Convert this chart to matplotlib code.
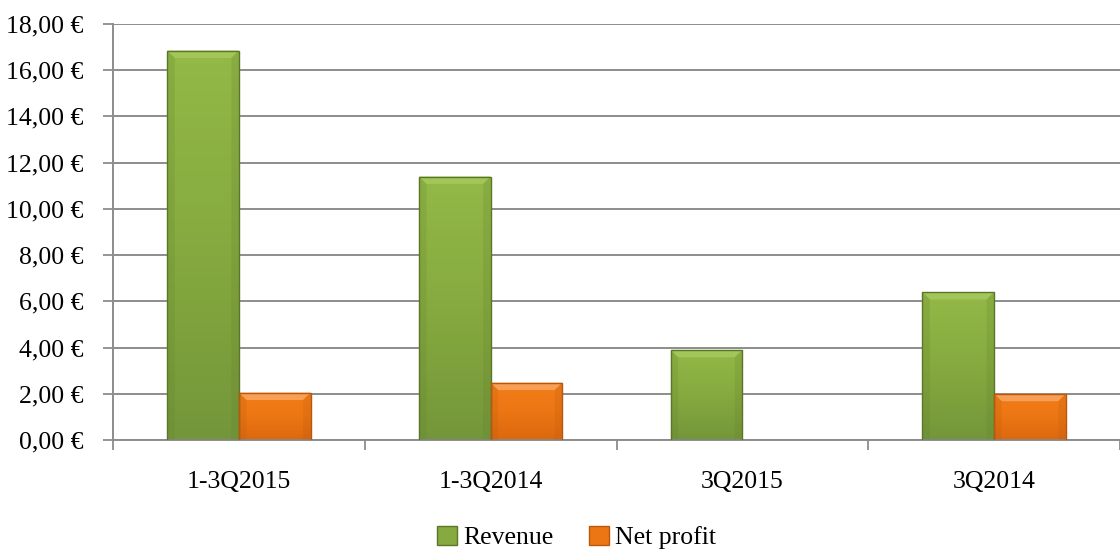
import matplotlib
matplotlib.use("Agg")
import matplotlib.pyplot as plt
import numpy as np
from matplotlib.patches import Patch, Polygon
from matplotlib.colors import LinearSegmentedColormap

categories = ["1-3Q2015", "1-3Q2014", "3Q2015", "3Q2014"]
revenue = [16.85, 11.4, 3.9, 6.4]
net_profit = [2.05, 2.48, 0.0, 2.0]
y_ticks = [0, 2, 4, 6, 8, 10, 12, 14, 16, 18]

plt.rcParams['font.family'] = ['Liberation Serif', 'DejaVu Serif']

fig = plt.figure(figsize=(11.2, 5.53), dpi=100)
ax = fig.add_axes([113 / 1120, 113 / 553, 1 - 113 / 1120, (440 - 24) / 553])

x = np.arange(len(categories))
w = 0.285

green_cmap = LinearSegmentedColormap.from_list("g", ["#74963a", "#86aa3f", "#93b947"])
orange_cmap = LinearSegmentedColormap.from_list("o", ["#dc680f", "#ec7613", "#f27e18"])

bars_r = ax.bar(x - w / 2, revenue, w, facecolor="none", edgecolor="#5b7629", lw=1.0, zorder=3)
bars_p = ax.bar(x + w / 2, net_profit, w, facecolor="none", edgecolor="#b8580c", lw=1.0, zorder=3)

grad = np.linspace(0, 1, 256).reshape(-1, 1)
bev_y = 0.32
bev_x = 0.03


def shade(bars, cmap, light, dark):
    for b in bars:
        bx, by = b.get_x(), b.get_y()
        bw, bh = b.get_width(), b.get_height()
        if bh <= 0:
            b.set_visible(False)
            continue
        im = ax.imshow(grad, cmap=cmap, origin="lower", aspect="auto",
                       extent=[bx, bx + bw, by, by + bh], zorder=2)
        im.set_clip_path(b)
        d = min(bev_y, bh / 2)
        top = Polygon([[bx, by + bh], [bx + bw, by + bh],
                       [bx + bw - bev_x, by + bh - d], [bx + bev_x, by + bh - d]],
                      closed=True, facecolor=light, edgecolor="none", zorder=2.5)
        ax.add_patch(top)
        for side in (bx, bx + bw):
            sx = bx + bev_x if side == bx else bx + bw - bev_x
            sp = Polygon([[side, by + bh], [sx, by + bh - d], [sx, by], [side, by]],
                         closed=True, facecolor=dark, edgecolor="none", alpha=0.2, zorder=2.5)
            ax.add_patch(sp)


shade(bars_r, green_cmap, "#a3c65a", "#5f7d2b")
shade(bars_p, orange_cmap, "#f69f55", "#b8580c")

ax.set_xlim(-0.5, 3.46)
ax.set_ylim(0, 18)

ax.set_yticks(y_ticks)
ax.set_yticklabels([f"{v:.2f}".replace(".", ",") + " €" for v in y_ticks])
ax.yaxis.grid(True, color="#8c8c8c", lw=1.4, zorder=1)
ax.set_axisbelow(True)

ax.set_xticks(np.arange(len(categories) + 1) - 0.5)
ax.set_xticklabels([])
ax.set_xticks(x, minor=True)
ax.set_xticklabels(categories, minor=True)
ax.tick_params(axis="x", which="minor", length=0, pad=22, labelsize=18.5)
ax.tick_params(axis="x", which="major", length=7, width=1.3, color="#8c8c8c")
ax.tick_params(axis="y", length=7, width=1.3, color="#8c8c8c", pad=14, labelsize=18.5)

for s in ("top", "right"):
    ax.spines[s].set_visible(False)
for s in ("left", "bottom"):
    ax.spines[s].set_color("#8c8c8c")
    ax.spines[s].set_linewidth(1.4)

handles = [Patch(facecolor="#86aa3f", edgecolor="#5b7629", label="Revenue"),
           Patch(facecolor="#ec7613", edgecolor="#b8580c", label="Net profit")]
fig.legend(handles=handles, loc="center", bbox_to_anchor=(0.515, 0.028), ncol=2,
           frameon=False, fontsize=18.5, handlelength=0.75, handleheight=0.75,
           handletextpad=0.25, columnspacing=1.4)

fig.savefig("out.png", dpi=100)
